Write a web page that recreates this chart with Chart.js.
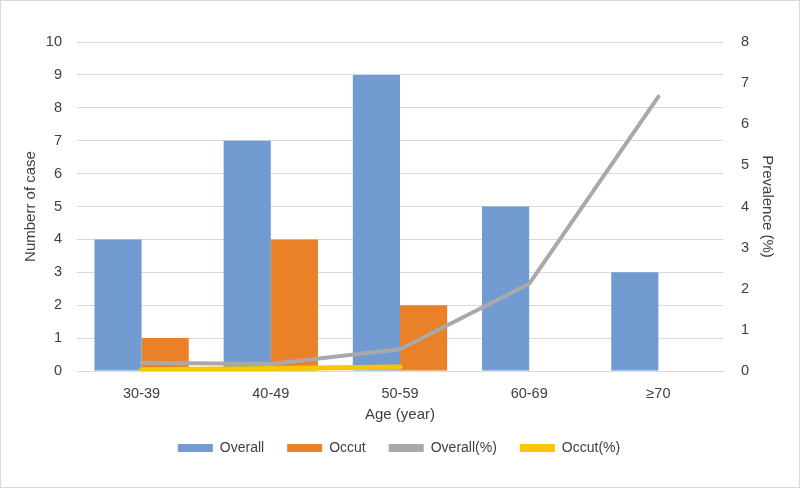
<!DOCTYPE html>
<html>
<head>
<meta charset="utf-8">
<script src="https://cdn.jsdelivr.net/npm/chart.js@4"></script>
<style>
html,body{margin:0;padding:0;background:#fff;}
#wrap{position:absolute;left:0;top:0;width:798px;height:486px;border:1px solid #d9d9d9;}
canvas{display:block;}
</style>
</head>
<body>
<div id="wrap"><canvas id="c" width="798" height="486"></canvas></div>
<script>
const categories = ['30-39', '40-49', '50-59', '60-69', '\u226570'];
const overallCases = [4, 7, 9, 5, 3];
const occultCases = [1, 4, 2, 0, 0];
const overallPct = [0.2, 0.17, 0.53, 2.12, 6.67];
const occultPct = [0.03, 0.06, 0.1, null, null];
const leftTicks = [0, 10, 1];
const rightTicks = [0, 8, 1];

const FONT = "'Liberation Sans', 'Open Sans', sans-serif";
const TXT = '#404040';

new Chart(document.getElementById('c'), {
  type: 'bar',
  data: {
    labels: categories,
    datasets: [
      {label: 'Overall', data: overallCases, backgroundColor: '#729bd1', yAxisID: 'y', order: 3, categoryPercentage: 0.73, barPercentage: 1},
      {label: 'Occut', data: occultCases, backgroundColor: '#ea8129', yAxisID: 'y', order: 3, categoryPercentage: 0.73, barPercentage: 1},
      {label: 'Overall(%)', type: 'line', data: overallPct, borderColor: '#a9a9a9', backgroundColor: '#a9a9a9', borderWidth: 4, pointRadius: 0, yAxisID: 'y1', order: 1, spanGaps: false, borderCapStyle: 'round', borderJoinStyle: 'round'},
      {label: 'Occut(%)', type: 'line', data: occultPct, borderColor: '#f7c600', backgroundColor: '#f7c600', borderWidth: 5, pointRadius: 0, yAxisID: 'y1', order: 0, spanGaps: false, borderCapStyle: 'round', borderJoinStyle: 'round'}
    ]
  },
  options: {
    responsive: false,
    animation: false,
    layout: {padding: {top: 41, bottom: 22, left: 21, right: 23}},
    plugins: {
      tooltip: {enabled: false},
      legend: {
        position: 'bottom',
        labels: {
          boxWidth: 35, boxHeight: 8, padding: 23, color: TXT, font: {family: FONT, size: 14},
          sort: (a, b) => a.datasetIndex - b.datasetIndex,
          generateLabels(chart) {
            const items = Chart.defaults.plugins.legend.labels.generateLabels(chart);
            items.forEach(it => { it.lineWidth = 0; it.strokeStyle = 'rgba(0,0,0,0)'; });
            return items;
          }
        }
      }
    },
    scales: {
      x: {
        grid: {display: false, drawTicks: false},
        border: {display: true, color: '#d9d9d9'},
        ticks: {color: TXT, font: {family: FONT, size: 14.5}, padding: 14},
        title: {display: true, text: 'Age (year)', color: TXT, font: {family: FONT, size: 15}, padding: {top: 0, bottom: -6}},
        afterFit(s) { s.height = 47; }
      },
      y: {
        position: 'left',
        min: leftTicks[0], max: leftTicks[1],
        ticks: {stepSize: leftTicks[2], color: TXT, font: {family: FONT, size: 14.5}, padding: 15},
        grid: {color: '#d9d9d9', drawTicks: false},
        border: {display: false},
        title: {display: true, text: 'Numberr of case', color: TXT, font: {family: FONT, size: 15}, padding: {top: 0, bottom: 0}},
        afterFit(s) { s.width = 55; }
      },
      y1: {
        position: 'right',
        min: rightTicks[0], max: rightTicks[1],
        ticks: {stepSize: rightTicks[2], color: TXT, font: {family: FONT, size: 14.5}, padding: 18},
        grid: {display: false, drawTicks: false},
        border: {display: false},
        title: {display: true, text: 'Prevalence (%)', color: TXT, font: {family: FONT, size: 15}, padding: {top: 0, bottom: 0}},
        afterFit(s) { s.width = 53; }
      }
    }
  }
});
</script>
</body>
</html>
